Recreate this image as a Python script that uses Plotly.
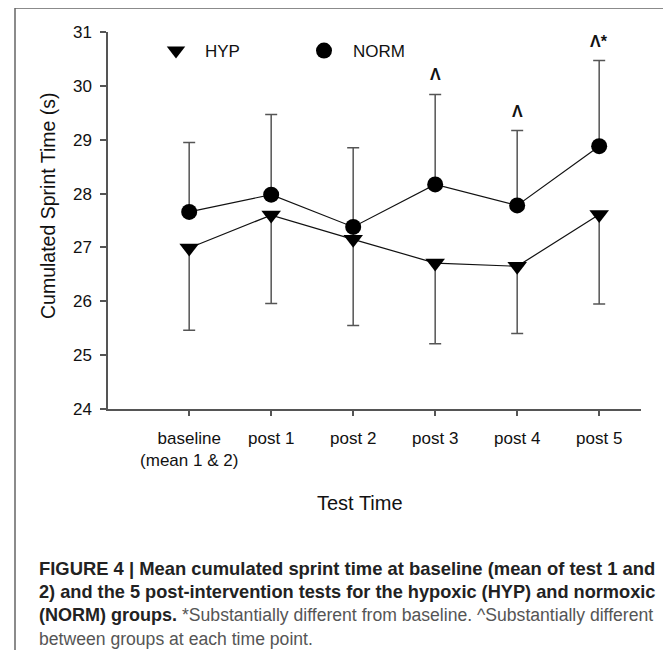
import plotly.graph_objects as go

# ---- data ----
categories = ["baseline", "post 1", "post 2", "post 3", "post 4", "post 5"]
tick_labels = ["baseline<br>(mean 1 & 2)", "post 1", "post 2", "post 3", "post 4", "post 5"]

hyp_mean = [26.99, 27.60, 27.15, 26.71, 26.65, 27.61]
hyp_lower = [25.46, 25.96, 25.55, 25.21, 25.40, 25.95]

norm_mean = [27.66, 27.98, 27.38, 28.17, 27.78, 28.88]
norm_upper = [28.95, 29.47, 28.85, 29.84, 29.17, 30.47]

sig_marks = ["", "", "", "Λ", "Λ", "Λ*"]

y_ticks = [24, 25, 26, 27, 28, 29, 30, 31]

# ---- layout geometry (page pixels; page body has an 8px margin) ----
OFF = 8
W, H = 663, 642
L, T = 108 - OFF, 32 - OFF
B = H - (409 - OFF)
R = W - (641 - OFF)
PW, PH = W - L - R, H - T - B


def px_x(px):
    return (px - OFF - L) / PW


def px_y(py):
    return (H - B - (py - OFF)) / PH


LINE = "#111111"
AXIS = "#555555"
ERR = "#555555"
FONT = "Liberation Sans, Arial, sans-serif"

fig = go.Figure()

fig.add_trace(go.Scatter(
    x=categories, y=norm_mean, mode="lines+markers", name="NORM",
    line=dict(color=LINE, width=1.2),
    marker=dict(symbol="circle", size=16, color="black"),
    error_y=dict(type="data", symmetric=False,
                 array=[u - m for u, m in zip(norm_upper, norm_mean)],
                 arrayminus=[0] * len(norm_mean),
                 color=ERR, thickness=1.5, width=6),
    showlegend=False,
))

fig.add_trace(go.Scatter(
    x=categories, y=hyp_mean, mode="lines+markers", name="HYP",
    line=dict(color=LINE, width=1.2),
    marker=dict(symbol="triangle-down", size=17, color="black"),
    error_y=dict(type="data", symmetric=False,
                 array=[0] * len(hyp_mean),
                 arrayminus=[m - lo for m, lo in zip(hyp_mean, hyp_lower)],
                 color=ERR, thickness=1.5, width=6),
    showlegend=False,
))

# legend-only entries (marker symbols only, as in the reference)
fig.add_trace(go.Scatter(x=[None], y=[None], mode="markers", name="HYP",
                         marker=dict(symbol="triangle-down", size=17, color="black")))
fig.add_trace(go.Scatter(x=[None], y=[None], mode="markers", name="NORM",
                         marker=dict(symbol="circle", size=16, color="black")))

annotations = []
for cat, up, mark in zip(categories, norm_upper, sig_marks):
    if mark:
        annotations.append(dict(x=cat, y=up, xref="x", yref="y", text="<b>" + mark + "</b>",
                                showarrow=False, yanchor="bottom", yshift=9,
                                font=dict(family=FONT, size=16, color="#111")))

# axis titles
annotations.append(dict(x=px_x(48), y=px_y(206), xref="paper", yref="paper",
                        text="Cumulated Sprint Time (s)", textangle=-90,
                        showarrow=False, xanchor="center", yanchor="middle",
                        font=dict(family=FONT, size=19.5, color="#111")))
annotations.append(dict(x=px_x(360), y=px_y(503), xref="paper", yref="paper",
                        text="Test Time", showarrow=False,
                        xanchor="center", yanchor="middle",
                        font=dict(family=FONT, size=20, color="#111")))

# caption
GRAY = "color:#555555;font-size:17.6px"
cap_lines = [
    "<b>FIGURE 4 | Mean cumulated sprint time at baseline (mean of test 1 and</b>",
    "<b>2) and the 5 post-intervention tests for the hypoxic (HYP) and normoxic</b>",
    "<b>(NORM) groups.</b> <span style='" + GRAY + "'>*Substantially different from baseline. ^Substantially different</span>",
    "<span style='" + GRAY + "'>between groups at each time point.</span>",
]
cap_y = [568, 591.5, 615, 638.5]
cap_size = [18.4, 18.2, 18, 18]
for txt, yy, sz in zip(cap_lines, cap_y, cap_size):
    annotations.append(dict(x=px_x(37), y=px_y(yy), xref="paper", yref="paper",
                            text=txt, showarrow=False, xanchor="left",
                            yanchor="middle", align="left",
                            font=dict(family=FONT, size=sz, color="#222222")))

fig.update_layout(
    width=W, height=H,
    margin=dict(l=L, r=R, t=T, b=B, pad=0),
    paper_bgcolor="white", plot_bgcolor="white",
    font=dict(family=FONT, size=17, color="#111"),
    showlegend=True,
    legend=dict(orientation="h", x=px_x(147), y=px_y(51), xanchor="left",
                yanchor="middle", itemwidth=48, entrywidth=85, entrywidthmode="pixels",
                font=dict(family=FONT, size=17, color="#111"),
                bgcolor="rgba(0,0,0,0)", borderwidth=0),
    annotations=annotations,
    shapes=[dict(type="rect", xref="paper", yref="paper",
                 x0=px_x(15), x1=px_x(667), y0=px_y(670), y1=px_y(8),
                 line=dict(color="#666666", width=1.5), layer="below")],
)

fig.update_xaxes(
    type="category", categoryorder="array", categoryarray=categories,
    range=[-0.99, 5.51],
    tickmode="array", tickvals=categories, ticktext=tick_labels,
    showline=True, linecolor=AXIS, linewidth=1.5,
    ticks="outside", ticklen=5, tickcolor=AXIS, tickwidth=1.5,
    showgrid=False, zeroline=False,
    tickfont=dict(family=FONT, size=17, color="#111"),
    ticklabelstandoff=8,
)
fig.update_yaxes(
    range=[24, 31], tickmode="array", tickvals=y_ticks,
    showline=True, linecolor=AXIS, linewidth=1.5,
    ticks="outside", ticklen=6, tickcolor=AXIS, tickwidth=1.5,
    showgrid=False, zeroline=False,
    tickfont=dict(family=FONT, size=17, color="#111"),
    ticklabelstandoff=5,
)

fig.write_html("out.html")
